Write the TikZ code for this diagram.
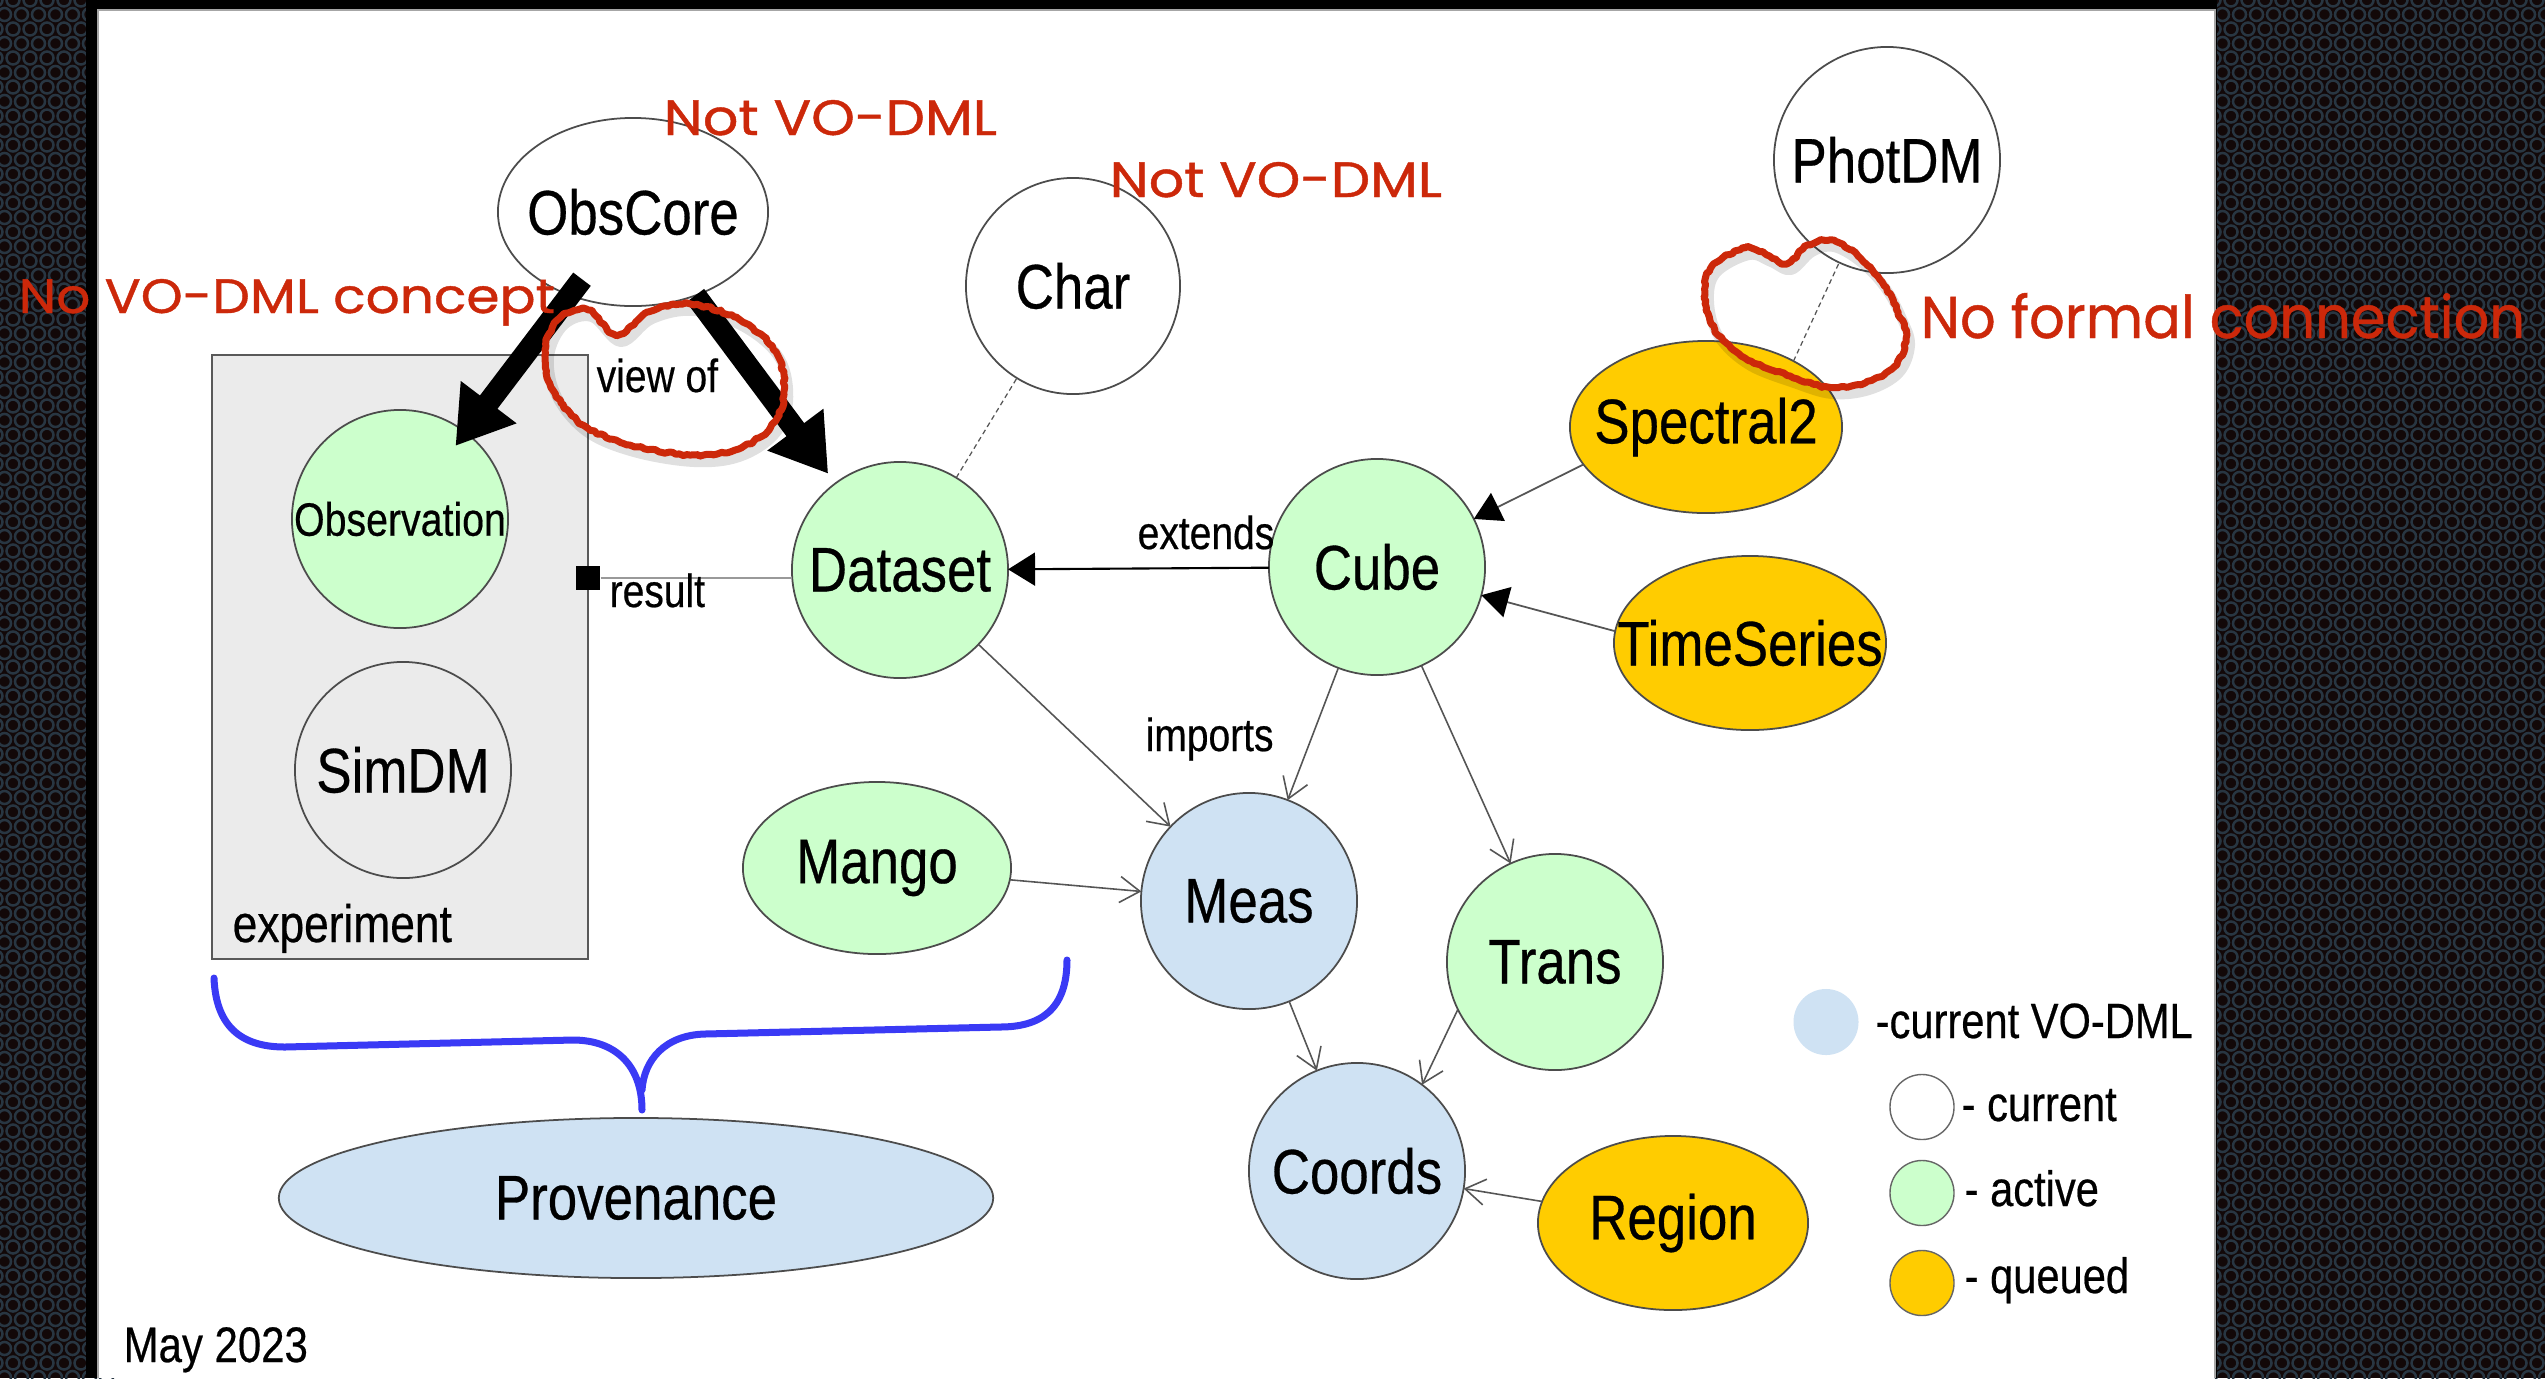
\documentclass[tikz,border=0pt]{standalone}
\usepackage{fontspec}
\usepackage{graphicx}
\setmainfont{Liberation Sans}
\newfontfamily\handfont[FakeBold=0.8]{Poppins}
\usetikzlibrary{shapes.geometric,arrows.meta,decorations.pathmorphing}

\definecolor{bgdark}{RGB}{18,8,8}
\definecolor{ringcol}{RGB}{40,54,66}
\definecolor{actgreen}{RGB}{204,255,204}
\definecolor{curblue}{RGB}{207,226,243}
\definecolor{quyellow}{RGB}{255,204,0}
\definecolor{boxgray}{RGB}{235,235,235}
\definecolor{edgegray}{RGB}{85,85,85}
\definecolor{inkred}{RGB}{204,40,10}
\definecolor{braceblue}{RGB}{58,58,245}

% narrow, slightly heavier Helvetica-like lettering
\newcommand{\nar}[1]{\scalebox{0.84}[1]{\addfontfeature{FakeBold=0.5}#1}}
\newcommand{\fsz}[1]{\fontsize{#1}{#1}\selectfont}

% model bubble: name, centre, width, height, fill, font style, text
\newcommand{\model}[7]{%
  \node[model, fill=#5, minimum width=#3, minimum height=#4] (#1) at (#2) {};
  \node[#6] (#1-t) at (#1) {\nar{#7}};}

% hand-written red remark
\newcommand{\remark}[6]{%
  \node[anchor=base west, inner sep=0pt, text=inkred] (#1) at (#2,#3)
    {\resizebox{#4}{#5}{\handfont\addfontfeature{FakeBold=0.8}#6}};}

\tikzset{
  model/.style={ellipse, draw=black!70, line width=0.5pt, inner sep=0pt, outer sep=0pt},
  big/.style={font=\fsz{17.9}, inner sep=0pt},
  mid/.style={font=\fsz{13.3}, inner sep=0pt},
  small/.style={font=\fsz{13.2}, inner sep=0pt, anchor=base west},
  legtxt/.style={font=\fsz{14.1}, inner sep=0pt, anchor=base west},
  legdot/.style={ellipse, draw=black!60, line width=0.4pt, minimum width=0.64cm, minimum height=0.65cm, inner sep=0pt},
  bigarrow/.style={line width=0.22cm, black, -{Triangle[length=0.55cm,width=0.66cm]}},
  imp/.style={draw=edgegray, line width=0.45pt, -{Straight Barb[length=0.2cm,width=0.26cm]}},
  inherit/.style={draw=edgegray, line width=0.5pt, -{Triangle[length=0.27cm,width=0.31cm,color=black]}},
  extline/.style={draw=black, line width=0.6pt, -{Triangle[length=0.27cm,width=0.33cm]}},
  dotline/.style={draw=edgegray, line width=0.35pt, dash pattern=on 0.05cm off 0.035cm},
  resline/.style={draw=black!40, line width=0.6pt},
  brace/.style={draw=braceblue, line width=0.07cm, line cap=round, line join=round},
  ring/.style={draw=ringcol, line width=0.025cm},
  scrib/.style={draw=inkred, line width=0.07cm, line cap=round, line join=round,
    decorate, decoration={random steps, segment length=0.035cm, amplitude=0.012cm}},
  scribshade/.style={draw=black, draw opacity=0.12, line width=0.1cm, line join=round}
}

\begin{document}
\begin{tikzpicture}[x=0.01cm, y=-0.01cm]
\useasboundingbox (0,0) rectangle (2545,1378);

% perforated metal backdrop, one path per row of holes
\fill[bgdark] (0,0) rectangle (2545,1378);
\foreach \r in {0,...,95} {
  \pgfmathsetmacro{\yy}{\r*14.5}
  \pgfmathsetmacro{\ox}{mod(\r,2)*8.5}
  \draw[ring] \foreach \c in {0,...,6} { ({\c*17+\ox-4}, \yy) circle (0.065cm) };
  \draw[ring] \foreach \c in {0,...,20} { ({2214+\c*17+\ox}, \yy) circle (0.065cm) };
}

% slide panel
\fill[black] (86,0) rectangle (2217,1378);
\fill[white] (98,10) rectangle (2215,1378);
\draw[black!35, line width=0.3pt] (98,1378) -- (98,10) -- (2215,10) -- (2215,1378);

% experiment group
\node[draw=black!65, fill=boxgray, line width=0.5pt, minimum width=3.76cm, minimum height=6.04cm, inner sep=0pt] (exp) at (400,657) {};
\node[font=\fsz{15}, inner sep=0pt, anchor=base west] (exp-t) at (232,942) {\nar{experiment}};

% models
\model{obscore}{633,212}{2.70cm}{1.88cm}{white}{big}{ObsCore}
\model{char}{1073,286}{2.14cm}{2.16cm}{white}{big}{Char}
\model{photdm}{1887,160}{2.26cm}{2.26cm}{white}{big}{PhotDM}
\model{spectral}{1706,427}{2.72cm}{1.72cm}{quyellow}{big}{Spectral2}
\model{cube}{1377,567}{2.16cm}{2.16cm}{actgreen}{big}{Cube}
\model{timeseries}{1750,643}{2.72cm}{1.74cm}{quyellow}{big}{TimeSeries}
\model{dataset}{900,570}{2.16cm}{2.16cm}{actgreen}{big}{Dataset}
\model{observation}{400,519}{2.16cm}{2.18cm}{actgreen}{mid}{Observation}
\model{simdm}{403,770}{2.16cm}{2.16cm}{boxgray}{big}{SimDM}
\model{mango}{877,868}{2.68cm}{1.72cm}{actgreen}{big}{Mango}
\model{meas}{1249,901}{2.16cm}{2.16cm}{curblue}{big}{Meas}
\model{trans}{1555,962}{2.16cm}{2.16cm}{actgreen}{big}{Trans}
\model{coords}{1357,1171}{2.16cm}{2.16cm}{curblue}{big}{Coords}
\model{region}{1673,1223}{2.70cm}{1.74cm}{quyellow}{big}{Region}
\model{provenance}{636,1198}{7.14cm}{1.60cm}{curblue}{big}{Provenance}

% relations
\draw[bigarrow, shorten <=-0.2cm, shorten >=-0.17cm] (obscore) -- (observation);
\draw[bigarrow, shorten >=0.12cm] (obscore) -- (dataset);
\node[small] (viewof) at (596,392) {\nar{view of}};

\node[fill=black, minimum size=0.24cm, inner sep=0pt] (resq) at (588,578) {};
\draw[resline] (resq) -- (resq -| dataset.west);
\node[small] (result) at (609,607) {\nar{result}};

\draw[extline] (cube) -- (dataset);
\node[small] (extends) at (1137,549) {\nar{extends}};
\draw[inherit] (spectral.197) -- (cube);
\draw[inherit] (timeseries.175) -- (cube);

\draw[dotline] (dataset) -- (char);
\draw[dotline] (spectral.37) -- (photdm.245);

\draw[imp] (dataset) -- (meas);
\draw[imp] (cube) -- (meas);
\draw[imp] (cube) -- (trans);
\draw[imp] (mango) -- (meas);
\draw[imp] (meas) -- (coords);
\draw[imp] (trans.206) -- (coords.53);
\draw[imp] (region) -- (coords);
\node[small] (imports) at (1145,751) {\nar{imports}};

% brace gathering the provenance sources
\draw[brace] (214,978) .. controls (216,1030) and (245,1047) .. (285,1047)
  -- (573,1040) .. controls (615,1040) and (642,1065) .. (642,1110);
\draw[brace] (642,1090) .. controls (644,1060) and (665,1035) .. (705,1034)
  -- (1000,1027) .. controls (1040,1027) and (1067,1010) .. (1067,960);

% legend
\node[ellipse, fill=curblue, minimum width=0.65cm, minimum height=0.66cm, inner sep=0pt] (lg1) at (1826,1022) {};
\node[legtxt] (lg1-t) at (1875,1038) {\nar{-current VO-DML}};
\node[legdot, fill=white] (lg2) at (1922,1107) {};
\node[legtxt] (lg2-t) at (1961,1121) {\nar{- current}};
\node[legdot, fill=actgreen] (lg3) at (1922,1193) {};
\node[legtxt] (lg3-t) at (1964,1206) {\nar{- active}};
\node[legdot, fill=quyellow] (lg4) at (1922,1283) {};
\node[legtxt] (lg4-t) at (1964,1293) {\nar{- queued}};

\node[font=\fsz{14.2}, inner sep=0pt, anchor=base west] (date) at (123,1362) {\nar{May 2023}};

% red remarks
\remark{rk1}{663}{135}{3.33cm}{0.35cm}{Not VO-DML}
\remark{rk2}{1109}{197}{3.32cm}{0.35cm}{Not VO-DML}
\remark{rk3}{18}{313}{5.36cm}{0.34cm}{No VO-DML concept}
\remark{rk4}{1920}{338}{6.04cm}{0.45cm}{No formal connection}

% scribbled loops
\begin{scope}[shift={(4,7)}]
\draw[scribshade] plot[smooth cycle, tension=0.6] coordinates {(617,335) (648,312) (690,304) (740,320) (776,352) (784,395) (770,428) (735,450) (690,455) (630,445) (583,425) (553,390) (545,350) (560,318) (588,310)};
\draw[scribshade] plot[smooth cycle, tension=0.6] coordinates {(1745,248) (1767,255) (1787,263) (1808,245) (1830,240) (1858,256) (1882,282) (1898,312) (1906,338) (1895,366) (1865,383) (1828,387) (1790,376) (1745,358) (1715,330) (1705,295) (1712,266)};
\end{scope}
\draw[scrib] plot[smooth cycle, tension=0.6] coordinates {(617,335) (648,312) (690,304) (740,320) (776,352) (784,395) (770,428) (735,450) (690,455) (630,445) (583,425) (553,390) (545,350) (560,318) (588,310)};
\draw[scrib] plot[smooth cycle, tension=0.6] coordinates {(1745,248) (1767,255) (1787,263) (1808,245) (1830,240) (1858,256) (1882,282) (1898,312) (1906,338) (1895,366) (1865,383) (1828,387) (1790,376) (1745,358) (1715,330) (1705,295) (1712,266)};
\end{tikzpicture}
\end{document}
